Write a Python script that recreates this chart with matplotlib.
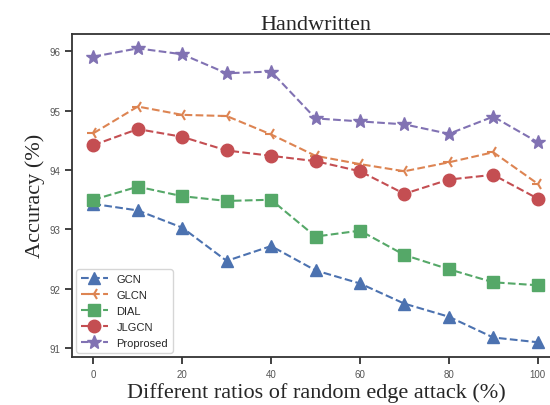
import numpy as np
import matplotlib
matplotlib.use('Agg')
import matplotlib.pyplot as plt
plt.style.use('seaborn-v0_8-ticks')

ratios = [0, 10, 20, 30, 40, 50, 60, 70, 80, 90, 100]
gcn = [93.43, 93.32, 93.03, 92.47, 92.72, 92.31, 92.09, 91.75, 91.53, 91.18, 91.10]
glcn = [94.62, 95.07, 94.93, 94.91, 94.60, 94.24, 94.10, 93.98, 94.13, 94.30, 93.77]
dial = [93.50, 93.72, 93.56, 93.48, 93.50, 92.88, 92.98, 92.57, 92.33, 92.11, 92.06]
jlgcn = [94.42, 94.69, 94.56, 94.33, 94.24, 94.15, 93.98, 93.60, 93.84, 93.92, 93.52]
proposed = [95.91, 96.05, 95.95, 95.63, 95.66, 94.87, 94.82, 94.77, 94.61, 94.90, 94.47]

fig = plt.figure(figsize=(5.5, 4.06), dpi=100)
ax = fig.add_axes([0.131, 0.118, 0.887, 0.797])

ax.plot(ratios, gcn, '--', marker='^', color='#4C72B0', markersize=9, lw=1.5, label='GCN')
ax.plot(ratios, glcn, '--', marker='3', color='#DD8452', markersize=9, mew=1.5, lw=1.5, label='GLCN')
ax.plot(ratios, dial, '--', marker='s', color='#55A868', markersize=9, lw=1.5, label='DIAL')
ax.plot(ratios, jlgcn, '--', marker='o', color='#C44E52', markersize=9, lw=1.5, label='JLGCN')
ax.plot(ratios, proposed, '--', marker='*', color='#8172B3', markersize=10, lw=1.5, label='Proprosed')

ax.set_xlim(-4.8, 105)
ax.set_ylim(90.85, 96.3)
ax.set_xticks([0, 20, 40, 60, 80, 100])
ax.set_yticks([91, 92, 93, 94, 95, 96])
ax.tick_params(labelsize=7, length=5, width=1.3, colors='#333333', labelcolor='#555555')
for s in ax.spines.values():
    s.set_linewidth(1.3)
    s.set_color('#333333')

ax.set_title('Handwritten', fontsize=16, family='Liberation Serif', pad=3)
ax.set_xlabel('Different ratios of random edge attack (%)', fontsize=16, family='Liberation Serif', labelpad=2)
ax.set_ylabel('Accuracy (%)', fontsize=16, family='Liberation Serif', labelpad=3)

ax.legend(loc='lower left', fontsize=8, frameon=True, borderaxespad=0.4,
          handlelength=2.4, labelspacing=0.55)

fig.savefig('out.png', dpi=100)
